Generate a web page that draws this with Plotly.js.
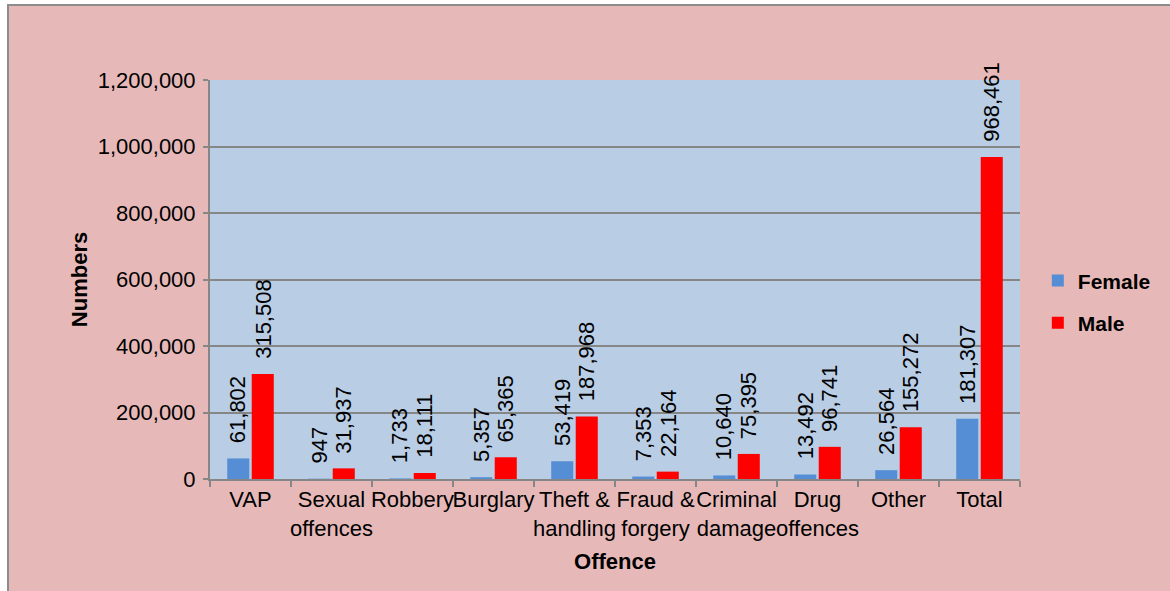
<!DOCTYPE html>
<html>
<head>
<meta charset="utf-8">
<script src="https://cdn.plot.ly/plotly-3.0.1.min.js"></script>
<style>
  html, body { margin: 0; padding: 0; background: #ffffff; width: 1170px; height: 591px; overflow: hidden; }
  #wrap { position: absolute; left: 7px; top: 4px; border-left: 2px solid #8c8c8c; border-top: 2px solid #8c8c8c; width: 1161px; height: 585px; }
  #chart { width: 1161px; height: 585px; }
</style>
</head>
<body>
<div id="wrap"><div id="chart"></div></div>
<script>
const categories = ["VAP", "Sexual<br>offences", "Robbery", "Burglary", "Theft &<br>handling",
                    "Fraud &<br>forgery", "Criminal<br>damage", "Drug<br>offences", "Other", "Total"];
const female = [61802, 947, 1733, 5357, 53419, 7353, 10640, 13492, 26564, 181307];
const male = [315508, 31937, 18111, 65365, 187968, 22164, 75395, 96741, 155272, 968461];
const yTickVals = [0, 200000, 400000, 600000, 800000, 1000000, 1200000];

const W = 1161, H = 585;
const margin = {l: 201, r: 150, t: 74, b: 112};
const bargap = 0.395, bargroupgap = 0.1;
const plotW = W - margin.l - margin.r;
const catPx = plotW / categories.length;
const slotPx = catPx * (1 - bargap) / 2;
const shiftPx = slotPx / 2;

const font = "Liberation Sans, Arial, sans-serif";
const fmt = v => v.toLocaleString("en-US");

const annotations = [];
categories.forEach((c, i) => {
  [[female, -shiftPx], [male, shiftPx]].forEach(([arr, sh]) => {
    annotations.push({
      x: c, y: arr[i], xref: "x", yref: "y",
      text: fmt(arr[i]), showarrow: false, textangle: -90,
      xanchor: "center", yanchor: "bottom", xshift: sh, yshift: 13,
      font: {family: font, size: 22, color: "#000000"}
    });
  });
});

const traces = [
  {type: "bar", name: "Female", x: categories, y: female, legendgroup: "f",
   marker: {color: "#558ED5", line: {width: 0}}, hoverinfo: "x+y"},
  {type: "bar", name: "Male", x: categories, y: male, legendgroup: "m",
   marker: {color: "#FF0000", line: {width: 0}}, hoverinfo: "x+y"}
];

const layout = {
  width: W, height: H,
  margin: margin,
  paper_bgcolor: "#E6B9B8",
  plot_bgcolor: "#B9CDE5",
  barmode: "group", bargap: bargap, bargroupgap: bargroupgap,
  font: {family: font, size: 22, color: "#000000"},
  showlegend: true,
  legend: {x: 1.022, xanchor: "left", y: 0.444, yanchor: "middle",
           bgcolor: "rgba(0,0,0,0)", traceorder: "grouped", tracegroupgap: 12,
           font: {family: font, size: 21, color: "#000000", weight: "bold"}},
  xaxis: {
    type: "category", tickson: "boundaries", ticks: "outside", ticklen: 6, tickwidth: 2,
    tickangle: 0,
    tickcolor: "#868686", showline: true, linecolor: "#868686", linewidth: 2,
    showgrid: false, tickfont: {family: font, size: 22, color: "#000000"},
    title: {text: "Offence", font: {family: font, size: 22, weight: "bold", color: "#000000"}, standoff: 14},
    automargin: false, fixedrange: true
  },
  yaxis: {
    range: [0, 1200000], tickvals: yTickVals, tickformat: ",d",
    ticks: "outside", ticklen: 5, tickwidth: 2, tickcolor: "#868686",
    ticklabelstandoff: 3,
    showline: true, linecolor: "#868686", linewidth: 2,
    showgrid: true, gridcolor: "#868686", gridwidth: 2, zeroline: false,
    tickfont: {family: font, size: 22, color: "#000000"},
    title: {text: "Numbers", font: {family: font, size: 22, weight: "bold", color: "#000000"}, standoff: 4},
    automargin: false, fixedrange: true
  },
  annotations: annotations
};

Plotly.newPlot("chart", traces, layout, {displayModeBar: false, staticPlot: true});
</script>
</body>
</html>
